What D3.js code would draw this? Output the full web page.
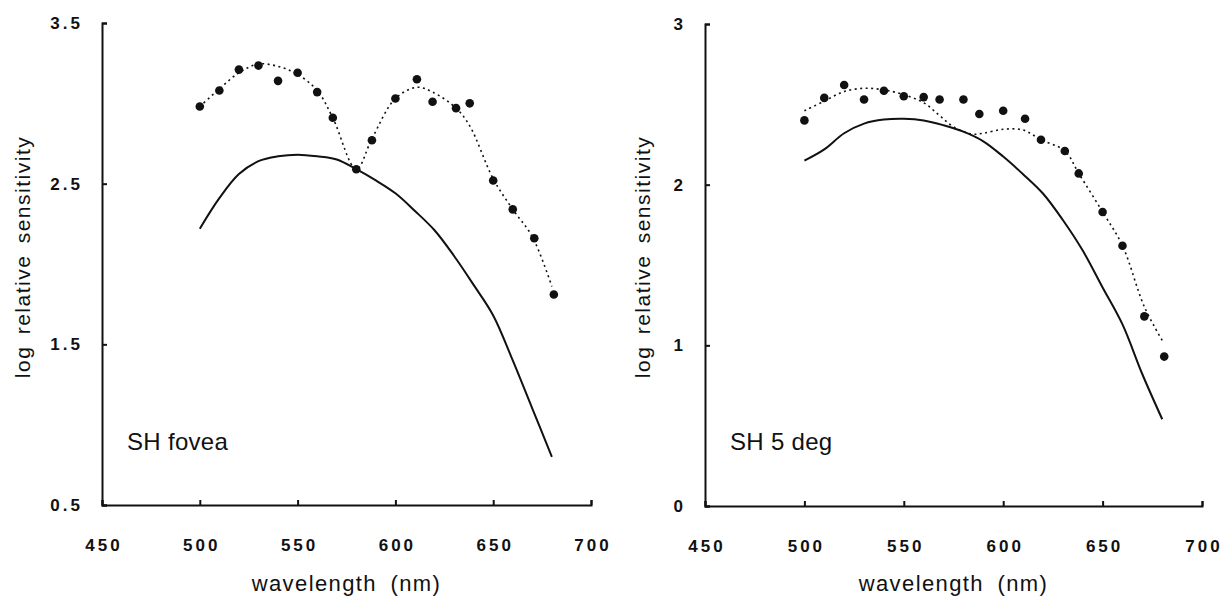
<!DOCTYPE html>
<html>
<head>
<meta charset="utf-8">
<script src="https://cdn.jsdelivr.net/npm/d3@7"></script>
<style>
  body { margin: 0; background: #fff; }
  text { font-family: "Liberation Sans", Arial, sans-serif; fill: #111; }
</style>
</head>
<body>
<div id="wrapper"></div>
<script>
// ---- data ----
// SH fovea
const foveaDotWl = [500, 510, 520, 530, 540, 550, 560, 568, 580, 588, 600, 611, 619, 631, 638, 650, 660, 671, 681]
const foveaDotVal = [2.98, 3.08, 3.21, 3.235, 3.14, 3.19, 3.07, 2.91, 2.59, 2.77, 3.03, 3.15, 3.01, 2.97, 3.0, 2.52, 2.34, 2.16, 1.81]
const foveaFitWl = [500, 510, 520, 530, 540, 550, 560, 568, 580, 588, 600, 611, 619, 631, 638, 650, 660, 670, 680]
const foveaFitVal = [2.98, 3.09, 3.19, 3.245, 3.23, 3.18, 3.08, 2.91, 2.59, 2.78, 3.03, 3.10, 3.07, 2.97, 2.86, 2.53, 2.34, 2.17, 1.86]
const foveaModelWl = [500, 510, 520, 530, 540, 550, 560, 570, 580, 590, 600, 610, 620, 630, 640, 650, 660, 670, 680]
const foveaModelVal = [2.22, 2.41, 2.56, 2.64, 2.67, 2.68, 2.67, 2.65, 2.59, 2.52, 2.44, 2.33, 2.21, 2.05, 1.87, 1.68, 1.40, 1.10, 0.80]
// SH 5 deg
const periDotWl = [500, 510, 520, 530, 540, 550, 560, 568, 580, 588, 600, 611, 619, 631, 638, 650, 660, 671, 681]
const periDotVal = [2.40, 2.54, 2.62, 2.53, 2.585, 2.55, 2.545, 2.53, 2.53, 2.44, 2.46, 2.41, 2.28, 2.21, 2.07, 1.83, 1.62, 1.18, 0.93]
const periFitWl = [500, 510, 520, 530, 540, 550, 560, 568, 575, 584, 590, 600, 610, 619, 631, 638, 650, 660, 671, 680]
const periFitVal = [2.46, 2.52, 2.58, 2.60, 2.59, 2.56, 2.51, 2.43, 2.36, 2.315, 2.32, 2.345, 2.34, 2.28, 2.21, 2.07, 1.83, 1.62, 1.24, 1.03]
const periModelWl = [500, 510, 520, 530, 540, 550, 560, 570, 580, 590, 600, 610, 620, 630, 640, 650, 660, 670, 680]
const periModelVal = [2.15, 2.22, 2.32, 2.38, 2.405, 2.41, 2.40, 2.37, 2.33, 2.27, 2.175, 2.065, 1.945, 1.78, 1.59, 1.36, 1.13, 0.82, 0.54]

const xTicks = [450, 500, 550, 600, 650, 700]
const foveaYTicks = [0.5, 1.5, 2.5, 3.5]
const periYTicks = [0, 1, 2, 3]

const zip = (a, b) => a.map((d, i) => ({x: d, y: b[i]}))

const panels = [
  {
    label: "SH fovea", xRange: [102, 591], yRange: [505, 23], yDomain: [0.5, 3.5],
    yTicks: foveaYTicks, yFmt: d3.format(".1f"), titleX: 30,
    dots: zip(foveaDotWl, foveaDotVal), fit: zip(foveaFitWl, foveaFitVal), model: zip(foveaModelWl, foveaModelVal),
  },
  {
    label: "SH 5 deg", xRange: [705, 1202], yRange: [506, 24], yDomain: [0, 3],
    yTicks: periYTicks, yFmt: d3.format("d"), titleX: 650,
    dots: zip(periDotWl, periDotVal), fit: zip(periFitWl, periFitVal), model: zip(periModelWl, periModelVal),
  },
]

const width = 1230
const height = 602
const svg = d3.select("#wrapper").append("svg").attr("width", width).attr("height", height)

panels.forEach(p => {
  const xScaler = d3.scaleLinear().domain([450, 700]).range(p.xRange)
  const yScaler = d3.scaleLinear().domain(p.yDomain).range(p.yRange)
  const g = svg.append("g")

  // axes, ticks point inward
  const xAxis = g.append("g")
    .attr("transform", `translate(0,${p.yRange[0]})`)
    .call(d3.axisBottom(xScaler).tickValues(xTicks).tickSize(-5).tickPadding(34))
  const yAxis = g.append("g")
    .attr("transform", `translate(${p.xRange[0]},0)`)
    .call(d3.axisLeft(yScaler).tickValues(p.yTicks).tickFormat(p.yFmt).tickSize(-5).tickPadding(19))
  ;[xAxis, yAxis].forEach(a => {
    a.selectAll("path, line").attr("stroke", "#111").attr("stroke-width", 2)
    a.selectAll("text")
      .style("font-family", "'Liberation Sans', Arial, sans-serif")
      .style("font-size", "17px").style("font-weight", "bold")
      .style("letter-spacing", "3px").attr("fill", "#111")
  })
  // letter-spacing adds trailing space; nudge x labels back to centre
  xAxis.selectAll("text").attr("dx", "1.5px")

  const line = d3.line().x(d => xScaler(d.x)).y(d => yScaler(d.y)).curve(d3.curveCatmullRom)
  // model curve
  g.append("path").datum(p.model).attr("d", line)
    .attr("fill", "none").attr("stroke", "#111").attr("stroke-width", 2)
  // dotted fit
  g.append("path").datum(p.fit).attr("d", line)
    .attr("fill", "none").attr("stroke", "#111").attr("stroke-width", 1.6)
    .attr("stroke-dasharray", "2,3.5")
  // data points
  g.selectAll("circle").data(p.dots).enter().append("circle")
    .attr("cx", d => xScaler(d.x)).attr("cy", d => yScaler(d.y)).attr("r", 4.3).attr("fill", "#111")

  // panel label
  g.append("text").attr("x", p.xRange[0] + 25).attr("y", 450)
    .style("font-size", "24px").style("letter-spacing", "0.3px").text(p.label)

  // axis titles
  g.append("text")
    .attr("x", (p.xRange[0] + p.xRange[1]) / 2).attr("y", 591)
    .attr("text-anchor", "middle")
    .style("font-size", "22px").style("letter-spacing", "1.4px").style("word-spacing", "6px")
    .text("wavelength (nm)")
  g.append("text")
    .attr("transform", `translate(${p.titleX},257) rotate(-90)`)
    .attr("text-anchor", "middle")
    .style("font-size", "21px").style("letter-spacing", "1.5px").style("word-spacing", "4px")
    .text("log relative sensitivity")
})
</script>
</body>
</html>
